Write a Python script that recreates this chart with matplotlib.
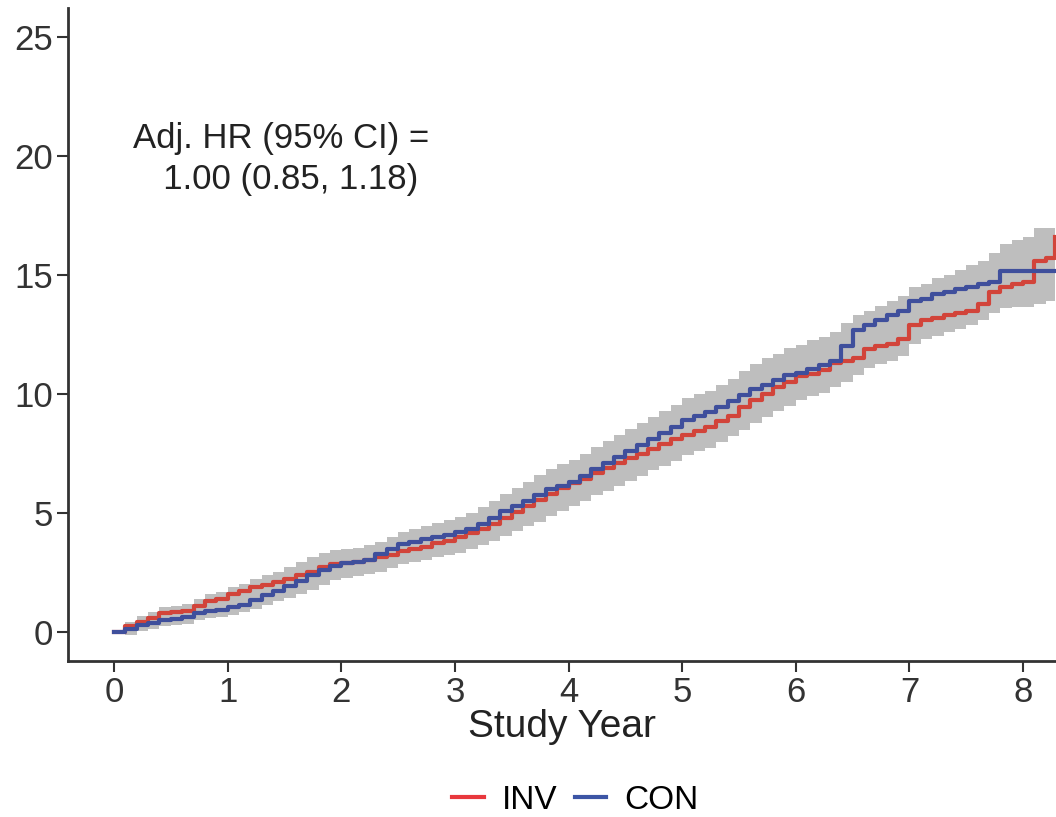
import matplotlib.pyplot as plt
from matplotlib.lines import Line2D

plt.rcParams["font.family"] = ["Liberation Sans", "DejaVu Sans"]

fs = 25

# follow-up time (years)
years = [0.0, 0.1, 0.2, 0.3, 0.4, 0.5, 0.6, 0.7, 0.8, 0.9,
         1.0, 1.1, 1.2, 1.3, 1.4, 1.5, 1.6, 1.7, 1.8, 1.9,
         2.0, 2.1, 2.2, 2.3, 2.4, 2.5, 2.6, 2.7, 2.8, 2.9,
         3.0, 3.1, 3.2, 3.3, 3.4, 3.5, 3.6, 3.7, 3.8, 3.9,
         4.0, 4.1, 4.2, 4.3, 4.4, 4.5, 4.6, 4.7, 4.8, 4.9,
         5.0, 5.1, 5.2, 5.3, 5.4, 5.5, 5.6, 5.7, 5.8, 5.9,
         6.0, 6.1, 6.2, 6.3, 6.4, 6.5, 6.6, 6.7, 6.8, 6.9,
         7.0, 7.1, 7.2, 7.3, 7.4, 7.5, 7.6, 7.7, 7.8, 7.9,
         8.0, 8.1, 8.2, 8.28]

# cumulative incidence (%), INV arm
inv = [0.0, 0.25, 0.45, 0.6, 0.8, 0.85, 0.9, 1.1, 1.3, 1.4,
       1.6, 1.75, 1.9, 2.0, 2.1, 2.25, 2.4, 2.55, 2.75, 2.85,
       2.9, 2.95, 3.05, 3.15, 3.25, 3.4, 3.5, 3.6, 3.75, 3.85,
       4.0, 4.15, 4.35, 4.55, 4.8, 5.05, 5.3, 5.55, 5.8, 6.05,
       6.25, 6.45, 6.7, 6.9, 7.1, 7.3, 7.5, 7.7, 7.9, 8.1,
       8.3, 8.45, 8.6, 8.85, 9.1, 9.45, 9.75, 10.0, 10.3, 10.5,
       10.75, 10.85, 11.0, 11.3, 11.4, 11.5, 11.9, 12.0, 12.1, 12.3,
       12.9, 13.1, 13.2, 13.3, 13.4, 13.5, 13.8, 14.3, 14.5, 14.6,
       14.7, 15.6, 15.7, 16.6]

# cumulative incidence (%), CON arm
con = [0.0, 0.15, 0.3, 0.4, 0.5, 0.55, 0.65, 0.8, 0.9, 0.95,
       1.05, 1.15, 1.35, 1.55, 1.75, 1.95, 2.15, 2.4, 2.6, 2.8,
       2.9, 2.95, 3.05, 3.3, 3.5, 3.7, 3.8, 3.9, 4.0, 4.1,
       4.2, 4.35, 4.55, 4.8, 5.1, 5.3, 5.5, 5.75, 6.0, 6.15,
       6.3, 6.55, 6.85, 7.1, 7.35, 7.6, 7.85, 8.1, 8.35, 8.6,
       8.9, 9.1, 9.25, 9.45, 9.7, 9.95, 10.2, 10.4, 10.6, 10.8,
       10.9, 11.05, 11.2, 11.4, 12.0, 12.7, 12.9, 13.1, 13.3, 13.5,
       13.9, 14.0, 14.2, 14.3, 14.4, 14.5, 14.6, 14.7, 15.15, 15.15,
       15.15, 15.15, 15.15, 15.15]

# 95% confidence band
ci_low = [0.0, -0.1, 0.05, 0.15, 0.25, 0.3, 0.35, 0.5, 0.6, 0.65,
          0.75, 0.85, 1.0, 1.15, 1.3, 1.45, 1.6, 1.8, 2.0, 2.2,
          2.3, 2.35, 2.45, 2.55, 2.7, 2.85, 2.95, 3.05, 3.15, 3.25,
          3.35, 3.5, 3.65, 3.85, 4.05, 4.25, 4.45, 4.65, 4.9, 5.1,
          5.3, 5.5, 5.75, 5.95, 6.15, 6.35, 6.55, 6.8, 7.0, 7.2,
          7.45, 7.6, 7.75, 8.0, 8.25, 8.5, 8.8, 9.05, 9.3, 9.5,
          9.75, 9.9, 10.05, 10.3, 10.5, 10.8, 11.1, 11.25, 11.4, 11.6,
          12.1, 12.3, 12.45, 12.6, 12.75, 12.9, 13.1, 13.4, 13.6, 13.65,
          13.65, 13.8, 13.9, 14.0]

ci_high = [0.0, 0.45, 0.7, 0.85, 1.05, 1.1, 1.2, 1.4, 1.6, 1.7,
           1.9, 2.05, 2.25, 2.4, 2.55, 2.75, 2.95, 3.15, 3.35, 3.45,
           3.5, 3.55, 3.65, 3.8, 4.0, 4.2, 4.35, 4.45, 4.6, 4.7,
           4.85, 5.0, 5.25, 5.5, 5.8, 6.05, 6.3, 6.6, 6.85, 7.05,
           7.25, 7.5, 7.8, 8.05, 8.3, 8.55, 8.8, 9.05, 9.3, 9.55,
           9.85, 10.0, 10.15, 10.4, 10.65, 10.95, 11.25, 11.5, 11.7, 11.95,
           12.05, 12.25, 12.4, 12.6, 13.0, 13.3, 13.5, 13.7, 13.9, 14.1,
           14.5, 14.6, 14.85, 15.0, 15.2, 15.4, 15.6, 15.9, 16.3, 16.45,
           16.6, 16.95, 16.95, 17.2]

fig = plt.figure(figsize=(10.56, 8.17), dpi=100)
ax = fig.add_axes([68 / 1056, 156 / 817, 1 - 68 / 1056, (661 - 8) / 817])

ax.fill_between(years, ci_low, ci_high, step="post", color="#BEBEBE", lw=0)
ax.step(years, inv, where="post", color="#D2443A", lw=3)
ax.step(years, con, where="post", color="#3F4F9C", lw=3)

ax.text(1.47, 19.85, "Adj. HR (95% CI) =\n  1.00 (0.85, 1.18)", ha="center", va="center",
        fontsize=fs, color="#222222", linespacing=1.3)

ax.set_xlim(-0.405, 8.29)
ax.set_ylim(-1.2, 26.2)
ax.set_xticks(range(0, 9))
ax.set_yticks([0, 5, 10, 15, 20, 25])
ax.set_xlabel("Study Year", fontsize=28, color="#222222", labelpad=0)

for s in ["top", "right"]:
    ax.spines[s].set_visible(False)
for s in ["left", "bottom"]:
    ax.spines[s].set_color("#333333")
    ax.spines[s].set_linewidth(2)
ax.tick_params(axis="both", length=8, width=1.5, color="#333333", labelsize=fs,
               labelcolor="#333333", pad=3)

handles = [Line2D([], [], color="#E8383D", lw=3), Line2D([], [], color="#3C55A5", lw=3)]
fig.legend(handles, ["INV", "CON"], loc="center", bbox_to_anchor=(0.545, 0.02), ncol=2,
           frameon=False, fontsize=24, handlelength=0.95, handletextpad=0.55, columnspacing=0.5)

fig.savefig("out.png", dpi=100)
